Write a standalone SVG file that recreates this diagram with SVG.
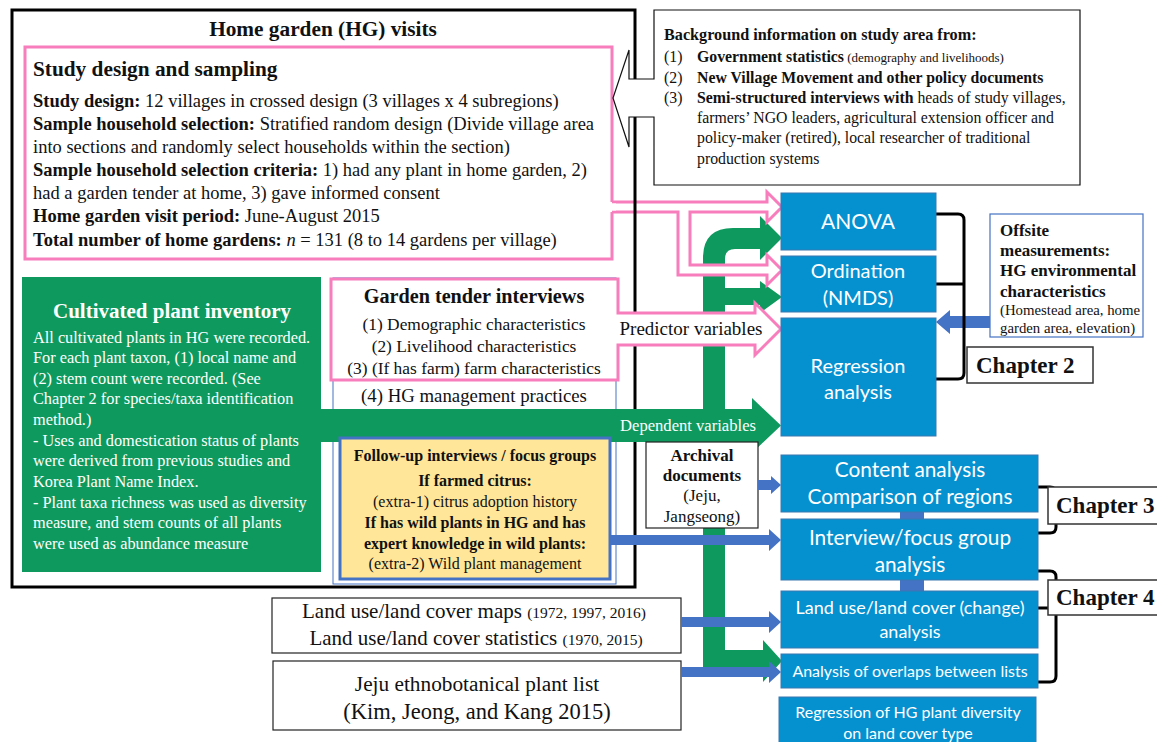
<svg xmlns="http://www.w3.org/2000/svg" width="1157" height="742" viewBox="0 0 1157 742">
<style>
.s{font-family:"Liberation Serif","Times New Roman",serif;fill:#111}
.b{font-weight:bold}
.w{fill:#fff}
.g{font-family:Lato,"Open Sans","Liberation Sans",sans-serif;fill:#fff}
.m{text-anchor:middle}
.bx{fill:#0591D0;stroke:#3A78B0;stroke-width:1}
.ba{fill:#4472C4}
.pk{fill:#fff;stroke:#F77DBD;stroke-width:3}
.ch{fill:#fff;stroke:#333;stroke-width:1.5}
.br{fill:none;stroke:#000;stroke-width:3}
</style>
<rect width="1157" height="742" fill="#fff"/>

<g id="hg-visits">
<rect x="12" y="10" width="623" height="577" fill="#fff"/>
</g>

<g id="connectors">
<path id="green-main" fill="#0E9A5E" d="M703,671 V258 Q703,228 733,228 H760 V216 L782,238 L760,260 V249 H735 Q725,249 725,259 V288 H760 V281 L782,297 L760,313 V305 H725 V650 H763 V640 L782,661 L763,682 V671 Z"/>
</g>

<g id="study-design">
<path class="pk" d="M612,202 V47 H25 V259 H612 V212"/>
<path class="pk" d="M612,202 H767 V192 L782,207 L767,222 V212 H690 V265 H767 V255 L782,270 L767,285 V275 H678 V212 H612"/>
<rect x="610" y="203.5" width="6" height="7" fill="#fff"/>
<text class="s b" x="33" y="76" font-size="21.3">Study design and sampling</text>
<g class="s" font-size="18.5">
<text x="33" y="107"><tspan class="b">Study design:</tspan> 12 villages in crossed design (3 villages x 4 subregions)</text>
<text x="33" y="130"><tspan class="b">Sample household selection:</tspan> Stratified random design (Divide village area</text>
<text x="33" y="153">into sections and randomly select households within the section)</text>
<text x="33" y="176"><tspan class="b">Sample household selection criteria:</tspan> 1) had any plant in home garden, 2)</text>
<text x="33" y="199">had a garden tender at home, 3) gave informed consent</text>
<text x="33" y="222"><tspan class="b">Home garden visit period:</tspan> June-August 2015</text>
<text x="33" y="246"><tspan class="b">Total number of home gardens:</tspan> <tspan font-style="italic">n</tspan> = 131 (8 to 14 gardens per village)</text>
</g>
</g>

<g id="hg-frame">
<rect x="12" y="10" width="623" height="577" fill="none" stroke="#000" stroke-width="3"/>
<text class="s b m" x="323" y="36" font-size="21.3">Home garden (HG) visits</text>
</g>

<g id="background-info">
<path d="M654,10 H1080 V185 H654 V117 H629 V147 L613,98 L629,50 V79 H654 Z" fill="#fff" stroke="#111" stroke-width="1.2"/>
<g class="s" font-size="15.8">
<text class="b" x="664" y="40" font-size="16.2">Background information on study area from:</text>
<text x="664" y="62">(1)</text><text x="697" y="62"><tspan class="b">Government statistics</tspan><tspan font-size="13"> (demography and livelihoods)</tspan></text>
<text x="664" y="83">(2)</text><text class="b" x="697" y="83">New Village Movement and other policy documents</text>
<text x="664" y="103">(3)</text><text x="697" y="103"><tspan class="b">Semi-structured interviews with</tspan> heads of study villages,</text>
<text x="697" y="123">farmers’ NGO leaders, agricultural extension officer and</text>
<text x="697" y="143">policy-maker (retired), local researcher of traditional</text>
<text x="697" y="164">production systems</text>
</g>
</g>

<g id="garden-tender">
<rect x="333" y="278" width="283" height="306" fill="#fff" stroke="#4472C4" stroke-width="1"/>
<path class="pk" d="M331,279 H618 V313 H755 V303 L781,329 L755,355 V345 H618 V380 H331 Z"/>
<text class="s m" x="691" y="335" font-size="19">Predictor variables</text>
<g class="s m" font-size="17.4">
<text class="b" x="474" y="303" font-size="20.2">Garden tender interviews</text>
<text x="474" y="330">(1) Demographic characteristics</text>
<text x="474" y="352">(2) Livelihood characteristics</text>
<text x="474" y="374">(3) (If has farm) farm characteristics</text>
<text x="474" y="402" font-size="18.8">(4) HG management practices</text>
</g>
</g>

<g id="dependent-arrow">
<path fill="#0E9A5E" d="M318,409 H752 V398 L781,425.5 L752,453 V442 H318 Z"/>
<text class="s w m" x="688" y="431" font-size="16.6">Dependent variables</text>
</g>

<g id="plant-inventory">
<rect x="22" y="277" width="299" height="295" fill="#0E9A5E"/>
<text class="s w b m" x="172" y="318" font-size="21">Cultivated plant inventory</text>
<g class="s w" font-size="16.3" style="fill:#fff">
<text x="33" y="343">All cultivated plants in HG were recorded.</text>
<text x="33" y="363">For each plant taxon, (1) local name and</text>
<text x="33" y="384">(2) stem count were recorded. (See</text>
<text x="33" y="404">Chapter 2 for species/taxa identification</text>
<text x="33" y="425">method.)</text>
<text x="33" y="446">- Uses and domestication status of plants</text>
<text x="33" y="466">were derived from previous studies and</text>
<text x="33" y="487">Korea Plant Name Index.</text>
<text x="33" y="508">- Plant taxa richness was used as diversity</text>
<text x="33" y="528">measure, and stem counts of all plants</text>
<text x="33" y="549">were used as abundance measure</text>
</g>
</g>

<g id="follow-up">
<rect x="340" y="438" width="270" height="141" fill="#FFE699" stroke="#4472C4" stroke-width="3"/>
<g class="s m" font-size="16">
<text class="b" x="475" y="461">Follow-up interviews / focus groups</text>
<text class="b" x="475" y="486">If farmed citrus:</text>
<text x="475" y="507">(extra-1) citrus adoption history</text>
<text class="b" x="475" y="528">If has wild plants in HG and has</text>
<text class="b" x="475" y="549">expert knowledge in wild plants:</text>
<text x="475" y="569">(extra-2) Wild plant management</text>
</g>
</g>

<g id="archival">
<rect x="646" y="442" width="112" height="86" fill="#fff" stroke="#222" stroke-width="1.2"/>
<g class="s m" font-size="17">
<text class="b" x="702" y="461">Archival</text>
<text class="b" x="702" y="481">documents</text>
<text x="702" y="501">(Jeju,</text>
<text x="702" y="522">Jangseong)</text>
</g>
</g>

<g id="landuse-sources">
<rect x="272" y="598" width="409" height="55" fill="#fff" stroke="#222" stroke-width="1.2"/>
<text class="s m" x="474" y="618" font-size="21">Land use/land cover maps <tspan font-size="15.5">(1972, 1997, 2016)</tspan></text>
<text class="s m" x="476" y="645" font-size="21">Land use/land cover statistics <tspan font-size="15.5">(1970, 2015)</tspan></text>
</g>

<g id="jeju-list">
<rect x="273" y="661" width="408" height="69" fill="#fff" stroke="#222" stroke-width="1.2"/>
<text class="s m" x="477" y="691" font-size="21.3">Jeju ethnobotanical plant list</text>
<text class="s m" x="477" y="719" font-size="22.5">(Kim, Jeong, and Kang 2015)</text>
</g>

<g id="offsite">
<rect x="990" y="214" width="153" height="123" fill="#fff" stroke="#4472C4" stroke-width="1.2"/>
<g class="s" font-size="17">
<text class="b" x="1000" y="236">Offsite</text>
<text class="b" x="1000" y="256">measurements:</text>
<text class="b" x="1000" y="276">HG environmental</text>
<text class="b" x="1000" y="297">characteristics</text>
<text x="1000" y="315" font-size="14.8">(Homestead area, home</text>
<text x="1000" y="333" font-size="14.8">garden area, elevation)</text>
</g>
</g>

<g id="blue-connectors">
<path class="ba" d="M990,316 H950 V310 L936,322 L950,334 V328 H990 Z"/>
<path class="ba" d="M758,480 H771 V476 L781,485 L771,494 V490 H758 Z"/>
<path class="ba" d="M610,535 H769 V529 L781,540 L769,551 V545 H610 Z"/>
<path class="ba" d="M681,617 H769 V611 L781,622 L769,633 V627 H681 Z"/>
<path class="ba" d="M681,667 H769 V661 L781,672 L769,683 V677 H681 Z"/>
<rect class="ba" x="900" y="510" width="24" height="11"/>
<rect class="ba" x="900" y="578" width="24" height="15"/>
</g>

<g id="brackets">
<path class="br" d="M936,214 H958 Q964,214 964,220 V373 Q964,379 958,379 H936 M936,284 H964"/>
<path class="br" d="M1038,487 H1050 Q1056,487 1056,493 V527 Q1056,533 1050,533 H1038"/>
<path class="br" d="M1038,571 H1050 Q1056,571 1056,577 V676 Q1056,682 1050,682 H1038 M1038,608 H1056"/>
</g>

<g id="anova"><rect class="bx" x="781" y="193" width="155" height="57"/><text class="g m" x="858" y="229" font-size="21">ANOVA</text></g>
<g id="ordination"><rect class="bx" x="781" y="256" width="155" height="56"/><text class="g m" x="858" y="278" font-size="20">Ordination</text><text class="g m" x="858" y="305" font-size="20">(NMDS)</text></g>
<g id="regression"><rect class="bx" x="781" y="318" width="155" height="118"/><text class="g m" x="858" y="373" font-size="20">Regression</text><text class="g m" x="858" y="399" font-size="20">analysis</text></g>
<g id="content-analysis"><rect class="bx" x="781" y="455" width="257" height="57"/><text class="g m" x="910" y="477" font-size="20.8">Content analysis</text><text class="g m" x="910" y="504" font-size="20.8">Comparison of regions</text></g>
<g id="interview-analysis"><rect class="bx" x="781" y="519" width="257" height="61"/><text class="g m" x="910" y="545" font-size="20.8">Interview/focus group</text><text class="g m" x="910" y="572" font-size="20.8">analysis</text></g>
<g id="landuse-analysis"><rect class="bx" x="781" y="591" width="257" height="57"/><text class="g m" x="910" y="614" font-size="18">Land use/land cover (change)</text><text class="g m" x="910" y="638" font-size="18">analysis</text></g>
<g id="overlap-analysis"><rect class="bx" x="781" y="654" width="257" height="34"/><text class="g m" x="910" y="677" font-size="16">Analysis of overlaps between lists</text></g>
<g id="diversity-regression"><rect class="bx" x="779" y="697" width="257" height="50"/><text class="g m" x="908" y="718" font-size="16">Regression of HG plant diversity</text><text class="g m" x="908" y="739" font-size="16">on land cover type</text></g>

<g id="chapter2"><rect class="ch" x="967" y="347" width="126" height="36"/><text class="s b" x="976" y="373" font-size="23">Chapter 2</text></g>
<g id="chapter3"><rect class="ch" x="1048" y="487" width="115" height="37"/><text class="s b" x="1056" y="513" font-size="23">Chapter 3</text></g>
<g id="chapter4"><rect class="ch" x="1048" y="580" width="115" height="35"/><text class="s b" x="1056" y="605" font-size="23">Chapter 4</text></g>
</svg>
